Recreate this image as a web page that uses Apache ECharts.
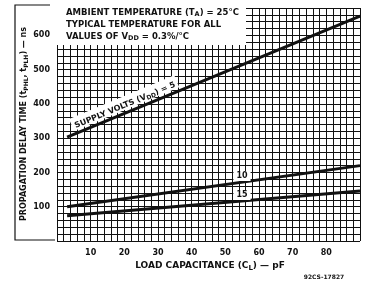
<!DOCTYPE html>
<html>
<head>
<meta charset="utf-8">
<script src="https://cdn.jsdelivr.net/npm/echarts@6/dist/echarts.min.js"></script>
<style>
  html, body { margin: 0; padding: 0; background: #fff; }
  #chart { width: 368px; height: 281px; }
</style>
</head>
<body>
<div id="chart"></div>
<script>
// load capacitance (pF) at the two ends of each curve
var loadCap = [3, 90];
// propagation delay (ns) for each supply voltage
var delay5V = [303, 656];
var delay10V = [100, 220];
var delay15V = [74, 146];

var xLabels = [10, 20, 30, 40, 50, 60, 70, 80];
var yLabels = [100, 200, 300, 400, 500, 600];

var ink = '#111';
var font = 'DejaVu Sans';

var toPairs = function(xs, ys) {
  return xs.map(function(x, i) { return [x, ys[i]]; });
};

var chart = echarts.init(document.getElementById('chart'));

var lineSeries = function(name, data) {
  return {
    name: name,
    type: 'line',
    data: toPairs(loadCap, data),
    symbol: 'none',
    silent: true,
    lineStyle: { color: ink, width: 3 },
    z: 5
  };
};

var richSub = function(size) {
  return {
    a: { fontFamily: font, fontWeight: 'bold', fontSize: size, fill: ink },
    s: { fontFamily: font, fontWeight: 'bold', fontSize: size - 2, fill: ink, padding: [4, 0, 0, 0] }
  };
};

var labelAngle = 22.6 * Math.PI / 180;

var option = {
  animation: false,
  backgroundColor: '#fff',
  grid: { left: 57, right: 8, top: 8, bottom: 40 },
  xAxis: {
    type: 'value',
    min: 0,
    max: 90,
    interval: 2,
    axisLine: { show: false },
    axisTick: { show: false },
    splitLine: { lineStyle: { color: ink, width: 1 } },
    axisLabel: {
      color: ink,
      fontFamily: font,
      fontWeight: 'bold',
      fontSize: 8,
      margin: 8,
      formatter: function(v) {
        return xLabels.indexOf(v) >= 0 ? String(v) : '';
      }
    }
  },
  yAxis: {
    type: 'value',
    min: 0,
    max: 680,
    interval: 20,
    axisLine: { show: true, lineStyle: { color: ink, type: 'dashed', width: 1 } },
    axisTick: { show: false },
    splitLine: { lineStyle: { color: ink, width: 1 } },
    axisLabel: {
      color: ink,
      fontFamily: font,
      fontWeight: 'bold',
      fontSize: 8,
      margin: 7,
      formatter: function(v) {
        return yLabels.indexOf(v) >= 0 ? String(v) : '';
      }
    }
  },
  series: [
    lineSeries('5 V', delay5V),
    lineSeries('10 V', delay10V),
    lineSeries('15 V', delay15V)
  ],
  graphic: [
    // bracket around the y axis title
    { type: 'polyline', shape: { points: [[50, 5], [15, 5], [15, 240], [55, 240]] },
      style: { stroke: ink, lineWidth: 1.2, fill: null }, z: 10 },
    // note box
    { type: 'rect', shape: { x: 56, y: 0, width: 190, height: 45 },
      style: { fill: '#fff' }, z: 20 },
    { type: 'text', left: 66, top: 7, z: 21,
      style: {
        text: '{a|AMBIENT TEMPERATURE (T}{s|A}{a|) = 25°C}\n{a|TYPICAL TEMPERATURE FOR ALL}\n{a|VALUES OF V}{s|DD}{a| = 0.3%/°C}',
        rich: {
          a: { fontFamily: font, fontWeight: 'bold', fontSize: 8.5, fill: ink, lineHeight: 12 },
          s: { fontFamily: font, fontWeight: 'bold', fontSize: 6.5, fill: ink, lineHeight: 12, padding: [4, 0, 0, 0] }
        }
      }
    },
    // white patch behind the rotated curve label
    { type: 'rect', x: 127, y: 110, rotation: labelAngle, z: 20,
      shape: { x: -57, y: -14, width: 114, height: 13 },
      style: { fill: '#fff' } },
    { type: 'text', x: 127, y: 110, rotation: labelAngle, z: 21,
      style: {
        text: '{a|SUPPLY VOLTS (V}{s|DD}{a|) = 5}',
        align: 'center', verticalAlign: 'bottom',
        rich: richSub(8)
      }
    },
    { type: 'text', x: 242, y: 176, z: 21,
      style: { text: '10', align: 'center', verticalAlign: 'middle', fontFamily: font,
        fontWeight: 'bold', fontSize: 8, fill: ink, backgroundColor: '#fff', padding: [1, 3] } },
    { type: 'text', x: 242, y: 195, z: 21,
      style: { text: '15', align: 'center', verticalAlign: 'middle', fontFamily: font,
        fontWeight: 'bold', fontSize: 8, fill: ink, backgroundColor: '#fff', padding: [1, 3] } },
    // axis titles
    { type: 'text', x: 24, y: 124, rotation: Math.PI / 2, z: 21,
      style: {
        text: '{a|PROPAGATION DELAY TIME (t}{s|PHL}{a|, t}{s|PLH}{a|) — ns}',
        align: 'center', verticalAlign: 'middle',
        rich: richSub(8)
      }
    },
    { type: 'text', x: 210, y: 266, z: 21,
      style: {
        text: '{a|LOAD CAPACITANCE (C}{s|L}{a|) — pF}',
        align: 'center', verticalAlign: 'middle',
        rich: richSub(9)
      }
    },
    { type: 'text', x: 324, y: 277, z: 21,
      style: { text: '92CS-17827', align: 'center', verticalAlign: 'middle', fontFamily: font,
        fontWeight: 'bold', fontSize: 6, fill: ink } }
  ]
};

chart.setOption(option);
</script>
</body>
</html>
